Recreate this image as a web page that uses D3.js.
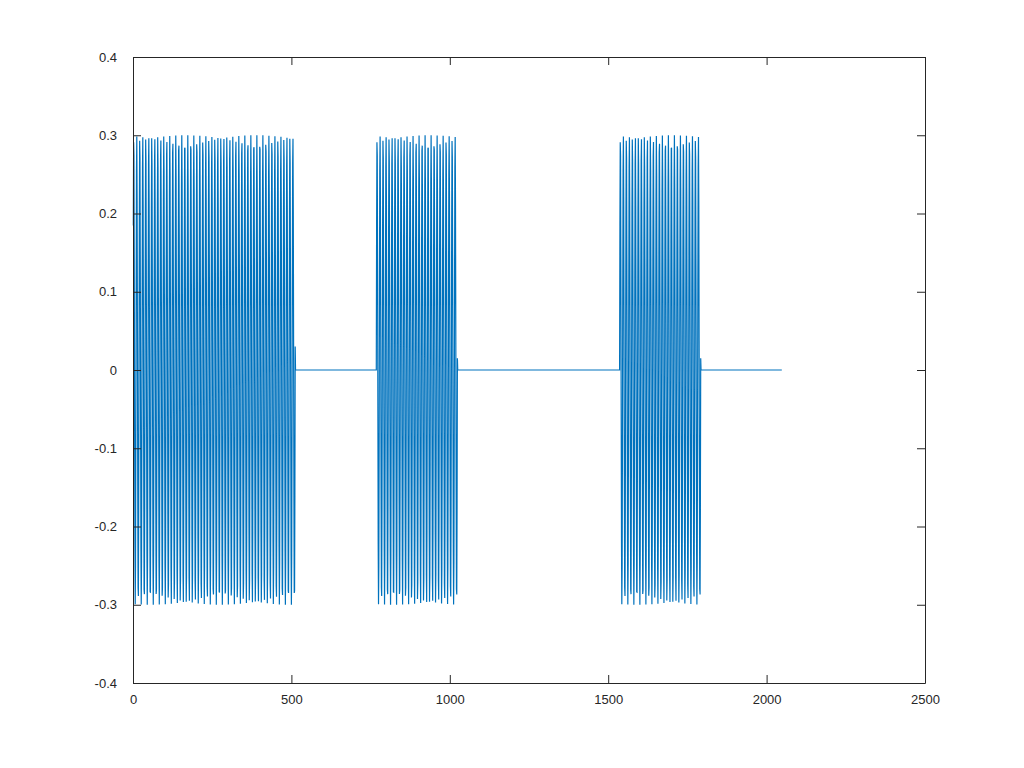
<!DOCTYPE html>
<html>
<head>
<meta charset="utf-8">
<script src="https://cdn.jsdelivr.net/npm/d3@7"></script>
<style>
  body { margin: 0; background: #fff; }
  text { font-family: "Liberation Sans", Arial, sans-serif; font-size: 13px; fill: #262626; }
</style>
</head>
<body>
<svg id="chart" width="1024" height="768"></svg>
<script>
// signal description: tone bursts, silence elsewhere
var totalSamples    = 2048;
var burstStart      = [1, 769, 1537];
var burstEnd        = [512, 1024, 1792];
var burstAmplitude  = [0.3, 0.3, 0.3];
var cyclesPerSample = 0.1055;

var xTicks = [0, 500, 1000, 1500, 2000, 2500];
var yTicks = [-0.4, -0.3, -0.2, -0.1, 0, 0.1, 0.2, 0.3, 0.4];

// build the sample list from the bursts
var samples = [];
for (var n = 1; n <= totalSamples; n++) {
  var v = 0;
  for (var b = 0; b < burstStart.length; b++) {
    if (n >= burstStart[b] && n <= burstEnd[b]) {
      v = burstAmplitude[b] * Math.sin(2 * Math.PI * cyclesPerSample * (n - burstStart[b] + 1));
    }
  }
  samples.push({ n: n, v: v });
}

var mLeft = 133, mRight = 925, mTop = 57, mBottom = 683;

var x = d3.scaleLinear().domain([0, 2500]).range([mLeft, mRight]);
var y = d3.scaleLinear().domain([-0.4, 0.4]).range([mBottom, mTop]);

var svg = d3.select("#chart");

var line = d3.line()
  .x(function(d) { return x(d.n); })
  .y(function(d) { return y(d.v); });

svg.append("path")
  .datum(samples)
  .attr("fill", "none")
  .attr("stroke", "#0072bd")
  .attr("stroke-width", 1.2)
  .attr("d", line);

function fmt(d) { return d === 0 ? "0" : String(d); }

svg.append("g").attr("transform", "translate(0," + mBottom + ")")
  .call(d3.axisBottom(x).tickValues(xTicks).tickSizeInner(-8).tickSizeOuter(0).tickPadding(12).tickFormat(fmt));
svg.append("g").attr("transform", "translate(0," + mTop + ")")
  .call(d3.axisTop(x).tickValues(xTicks).tickSizeInner(-8).tickSizeOuter(0).tickFormat(""));
svg.append("g").attr("transform", "translate(" + mLeft + ",0)")
  .call(d3.axisLeft(y).tickValues(yTicks).tickSizeInner(-8).tickSizeOuter(0).tickPadding(16).tickFormat(function(d) { return fmt(+d.toFixed(1)); }));
svg.append("g").attr("transform", "translate(" + mRight + ",0)")
  .call(d3.axisRight(y).tickValues(yTicks).tickSizeInner(-8).tickSizeOuter(0).tickFormat(""));

svg.selectAll(".domain").attr("stroke", "#262626");
svg.selectAll(".tick line").attr("stroke", "#262626");
svg.selectAll(".tick text").style("font-size", "13px").attr("fill", "#262626");
</script>
</body>
</html>
